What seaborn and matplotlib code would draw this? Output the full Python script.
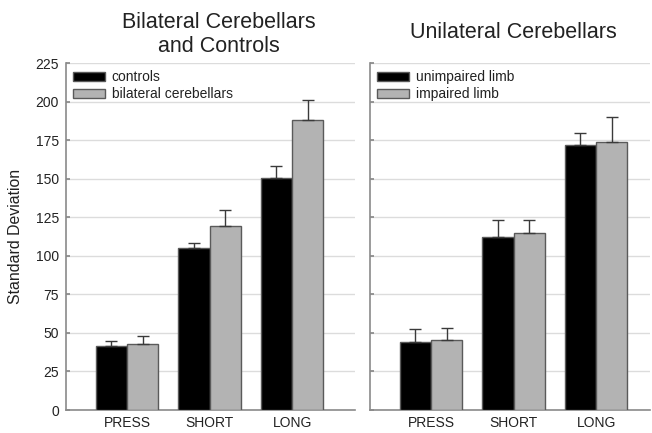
import matplotlib
matplotlib.use("Agg")
import matplotlib.pyplot as plt
import seaborn as sns
import pandas as pd

# Movement conditions
conditions = ["PRESS", "SHORT", "LONG"]

# Panel 1: bilateral cerebellar patients vs. controls
bilat_groups = ["controls", "bilateral cerebellars"]
controls_mean = [41.5, 105, 150.5]
controls_err = [3.5, 3.5, 7.5]
bilateral_mean = [42.5, 119.5, 188]
bilateral_err = [5.5, 10.5, 13]

# Panel 2: unilateral cerebellar patients, unimpaired vs. impaired limb
unilat_groups = ["unimpaired limb", "impaired limb"]
unimpaired_mean = [44, 112, 172]
unimpaired_err = [8.5, 11, 8]
impaired_mean = [45.5, 115, 174]
impaired_err = [8, 8.5, 16]

yticks = [0, 25, 50, 75, 100, 125, 150, 175, 200, 225]

sns.set_theme(style="white")
plt.rcParams["font.family"] = ["Liberation Sans", "DejaVu Sans"]

BLACK = "#000000"
GREY = "#b3b3b3"
EDGE = "#5a5a5a"
SPINE = "#8a8a8a"
GRID = "#dcdcdc"
TEXT = "#222222"

W, H = 652, 433
fig = plt.figure(figsize=(W / 100, H / 100), dpi=100)
ax1 = fig.add_axes([0.1012, 0.0531, 0.443, 0.801])
ax2 = fig.add_axes([0.5675, 0.0531, 0.429, 0.801])


def panel(ax, groups, means, errs, xlim, show_labels):
    df = pd.DataFrame({
        "condition": conditions * 2,
        "group": [groups[0]] * 3 + [groups[1]] * 3,
        "value": list(means[0]) + list(means[1]),
    })
    sns.barplot(data=df, x="condition", y="value", hue="group",
                order=conditions, hue_order=groups,
                palette=[BLACK, GREY], width=0.76, errorbar=None,
                edgecolor=EDGE, linewidth=1.0, ax=ax, zorder=3)
    # upward-only error bars placed on the drawn bars
    bars = [p for p in ax.patches if p.get_height() > 0][:6]
    err_flat = list(errs[0]) + list(errs[1])
    for bar, e in zip(bars, err_flat):
        xc = bar.get_x() + bar.get_width() / 2
        h = bar.get_height()
        ax.errorbar(xc, h, yerr=[[0], [e]], fmt="none", ecolor="#3a3a3a",
                    elinewidth=1.0, capsize=4, capthick=1.0, zorder=4)
    ax.set_xlim(*xlim)
    ax.set_ylim(0, 225)
    ax.set_yticks(yticks)
    ax.yaxis.grid(True, color=GRID, linewidth=1.0, zorder=0)
    ax.set_axisbelow(True)
    for s in ["top", "right"]:
        ax.spines[s].set_visible(False)
    for s in ["left", "bottom"]:
        ax.spines[s].set_color(SPINE)
        ax.spines[s].set_linewidth(1.2)
    ax.tick_params(axis="y", direction="in", length=3, color=SPINE,
                   labelsize=10, labelcolor=TEXT, left=True, pad=5)
    ax.tick_params(axis="x", length=0, labelsize=10, labelcolor=TEXT, pad=4.5)
    if not show_labels:
        ax.set_yticklabels([])
    ax.set_xlabel("")
    ax.set_ylabel("Standard Deviation" if show_labels else "", fontsize=11.4,
                  color=TEXT, labelpad=9)
    leg = ax.legend(loc="upper left", frameon=False, fontsize=10,
                    handlelength=2.3, handleheight=0.65, handletextpad=0.5,
                    labelspacing=0.22, borderaxespad=0.1,
                    bbox_to_anchor=(0.0, 1.0))
    for t in leg.get_texts():
        t.set_color(TEXT)


panel(ax1, bilat_groups, [controls_mean, bilateral_mean],
      [controls_err, bilateral_err], (-0.74, 2.76), True)
panel(ax2, unilat_groups, [unimpaired_mean, impaired_mean],
      [unimpaired_err, impaired_err], (-0.74, 2.65), False)

# Panel titles
fig.text(218.5 / W, 1 - 34.5 / H, "Bilateral Cerebellars\nand Controls",
         ha="center", va="center", fontsize=15.5, color=TEXT, linespacing=1.22)
fig.text(513 / W, 1 - 33 / H, "Unilateral Cerebellars",
         ha="center", va="center", fontsize=15.5, color=TEXT)

fig.savefig("out.png", dpi=100, facecolor="white")
